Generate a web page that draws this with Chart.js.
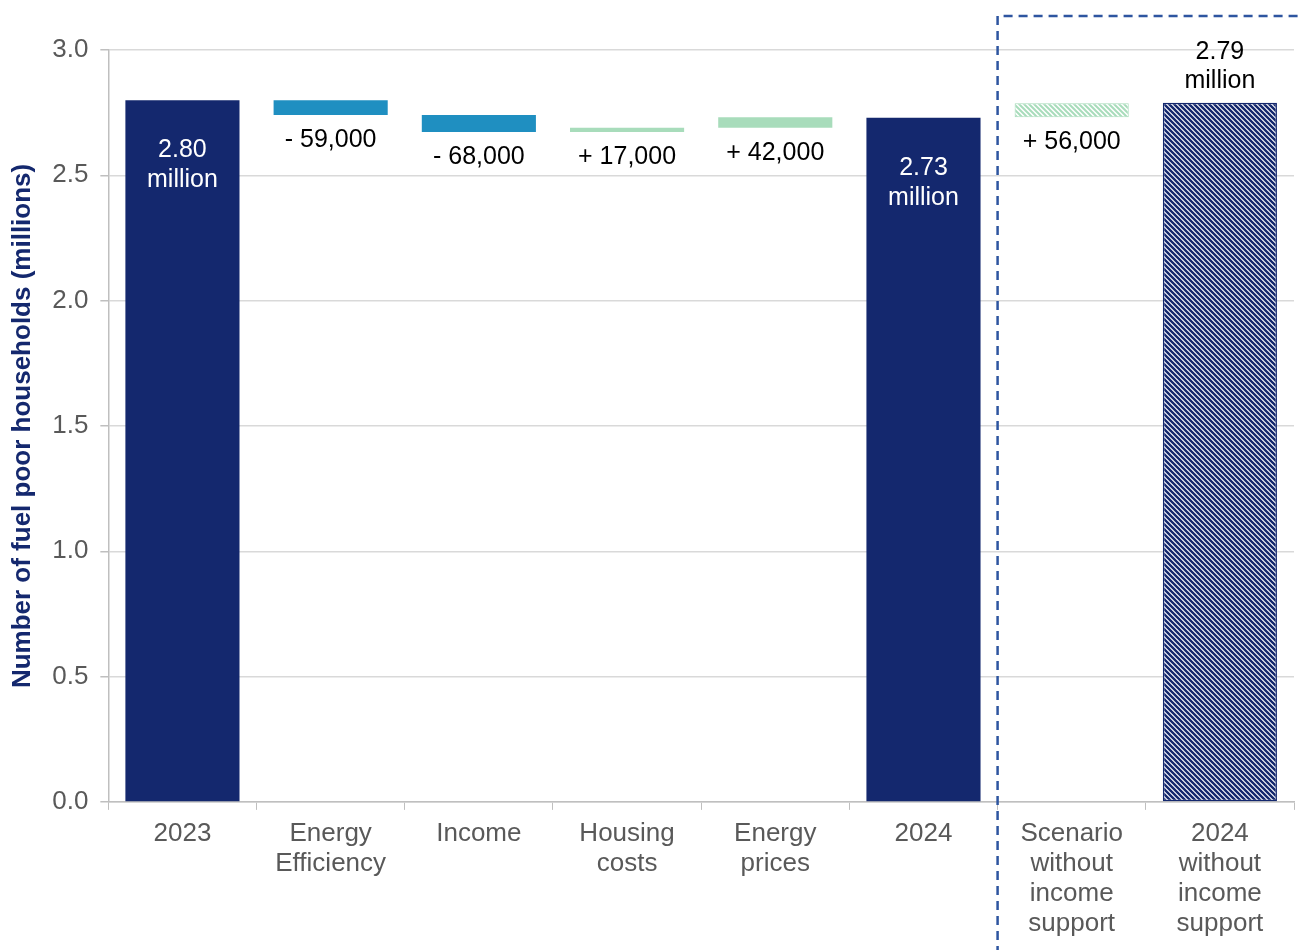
<!DOCTYPE html>
<html>
<head>
<meta charset="utf-8">
<script src="https://cdn.jsdelivr.net/npm/chart.js@4.4.1/dist/chart.umd.min.js"></script>
<style>
  html, body { margin: 0; padding: 0; background: #fff; }
  #wrap { width: 1298px; height: 950px; position: relative; }
</style>
</head>
<body>
<div id="wrap"><canvas id="fuelPovertyChart"></canvas></div>
<script>
// categories (multi-line tick labels)
const categories = [
    ['2023'],
    ['Energy', 'Efficiency'],
    ['Income'],
    ['Housing', 'costs'],
    ['Energy', 'prices'],
    ['2024'],
    ['Scenario', 'without', 'income', 'support'],
    ['2024', 'without', 'income', 'support']
];

// millions of households
const total2023 = 2.80;
const driverChanges = [-0.059, -0.068, 0.017, 0.042];   // energy efficiency, income, housing, prices
const total2024 = 2.73;
const scenarioChange = 0.056;
const total2024NoSupport = 2.79;

const yTicks = [0.0, 0.5, 1.0, 1.5, 2.0, 2.5, 3.0];

const NAVY = '#14286e';
const BLUE = '#1f8fc1';
const GREEN = '#a8dcbb';

function hatch(color, bg, lw) {
    const p = 5;
    const c = document.createElement('canvas');
    c.width = p; c.height = p;
    const g = c.getContext('2d');
    g.fillStyle = bg;
    g.fillRect(0, 0, p, p);
    g.strokeStyle = color;
    g.lineWidth = lw;
    g.beginPath();
    g.moveTo(-1, -1); g.lineTo(p + 1, p + 1);
    g.moveTo(-1, p - 1); g.lineTo(1, p + 1);
    g.moveTo(p - 1, -1); g.lineTo(p + 1, 1);
    g.stroke();
    return g.createPattern(c, 'repeat');
}

// build floating ranges for the waterfall
let running = total2023;
const ranges = [[0, total2023]];
driverChanges.forEach(d => {
    const next = running + d;
    ranges.push([Math.min(running, next), Math.max(running, next)]);
    running = next;
});
ranges.push([0, total2024]);
ranges.push([running, running + scenarioChange]);
ranges.push([0, total2024NoSupport]);

const allChanges = [null, ...driverChanges, null, scenarioChange, null];

const bgColors = [
    NAVY,
    ...driverChanges.map(d => d < 0 ? BLUE : GREEN),
    NAVY,
    hatch(GREEN, '#ffffff', 2),
    hatch(NAVY, '#ffffff', 2.4)
];
const borderColors = [NAVY, BLUE, BLUE, GREEN, GREEN, NAVY, GREEN, NAVY];
const borderWidths = [0, 0, 0, 0, 0, 0, 1, 1.5];

function fmtChange(v) {
    const n = Math.round(Math.abs(v) * 1e6);
    return (v < 0 ? '- ' : '+ ') + n.toLocaleString('en-GB');
}

const FONT = '"Liberation Sans", Arial, sans-serif';

// value labels and the dashed box round the scenario columns
const annotate = {
    id: 'annotate',
    afterDatasetsDraw(chart) {
        const ctx = chart.ctx;
        const x = chart.scales.x, y = chart.scales.y;
        const meta = chart.getDatasetMeta(0);
        ctx.save();
        ctx.font = '25px ' + FONT;
        ctx.textAlign = 'center';
        ctx.textBaseline = 'middle';
        ranges.forEach((r, i) => {
            const cx = meta.data[i].x;
            const top = y.getPixelForValue(r[1]);
            const bottom = y.getPixelForValue(r[0]);
            if (i === 0 || i === 5) {
                ctx.fillStyle = '#ffffff';
                ctx.fillText(r[1].toFixed(2), cx, top + 50);
                ctx.fillText('million', cx, top + 80);
            } else if (i === 7) {
                ctx.fillStyle = '#000000';
                ctx.fillText(r[1].toFixed(2), cx, top - 51);
                ctx.fillText('million', cx, top - 22);
            } else {
                ctx.fillStyle = '#000000';
                ctx.fillText(fmtChange(allChanges[i]), cx, bottom + 25);
            }
        });
        // dashed frame
        const bx = (x.getPixelForValue(5) + x.getPixelForValue(6)) / 2;
        ctx.strokeStyle = '#2e55a0';
        ctx.lineWidth = 2.5;
        ctx.setLineDash([9, 6]);
        ctx.beginPath();
        ctx.moveTo(bx, chart.height + 5);
        ctx.lineTo(bx, 16);
        ctx.lineTo(chart.width + 5, 16);
        ctx.stroke();
        ctx.restore();
    }
};

const ctx = document.getElementById('fuelPovertyChart').getContext('2d');

let fuelPovertyChart = new Chart(ctx, {
    type: 'bar',
    data: {
        labels: categories,
        datasets: [{
            data: ranges,
            backgroundColor: bgColors,
            borderColor: borderColors,
            borderWidth: borderWidths,
            borderSkipped: false,
            barPercentage: 1,
            categoryPercentage: 0.77
        }]
    },
    options: {
        responsive: true,
        maintainAspectRatio: false,
        animation: false,
        layout: { padding: { top: 50, right: 4, left: 7, bottom: 2 } },
        plugins: {
            legend: { display: false },
            tooltip: { enabled: false }
        },
        scales: {
            x: {
                grid: {
                    display: true,
                    offset: true,
                    drawOnChartArea: false,
                    drawTicks: true,
                    tickLength: 8,
                    color: '#bfbfbf'
                },
                border: { color: '#bfbfbf', width: 1.5 },
                ticks: {
                    color: '#595959',
                    font: { family: FONT, size: 26, lineHeight: 1.155 },
                    padding: 9,
                    maxRotation: 0,
                    autoSkip: false
                }
            },
            y: {
                min: 0,
                max: 3,
                afterBuildTicks(axis) { axis.ticks = yTicks.map(v => ({ value: v })); },
                grid: {
                    color: '#d9d9d9',
                    lineWidth: 1.5,
                    tickLength: 8,
                    tickColor: '#bfbfbf'
                },
                border: { color: '#bfbfbf', width: 1.5 },
                ticks: {
                    color: '#595959',
                    font: { family: FONT, size: 26 },
                    padding: 12,
                    callback: v => v.toFixed(1)
                },
                title: {
                    display: true,
                    text: 'Number of fuel poor households (millions)',
                    color: NAVY,
                    font: { family: FONT, size: 26, weight: 'bold' },
                    padding: { top: 0, bottom: 2 }
                }
            }
        }
    },
    plugins: [annotate]
});
</script>
</body>
</html>
